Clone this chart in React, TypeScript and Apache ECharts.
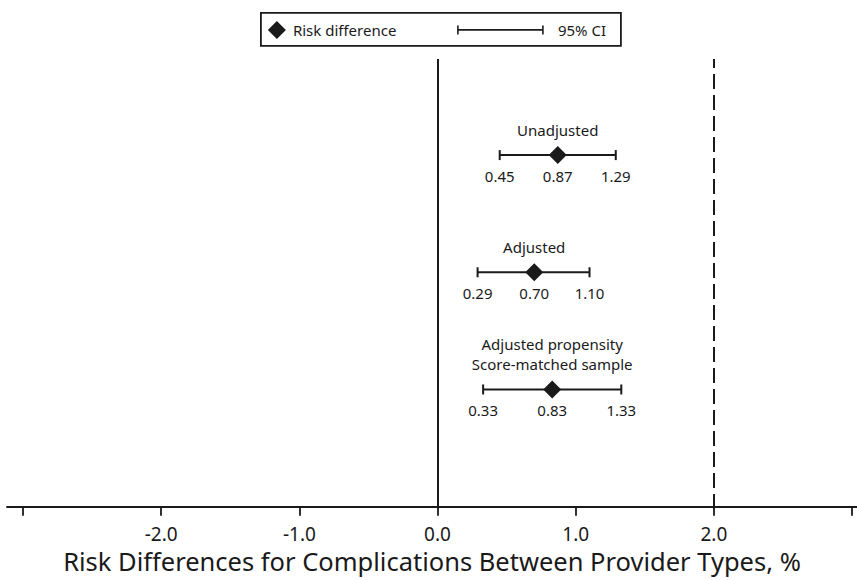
import React, { useEffect, useRef } from "react";
import * as echarts from "echarts";

const rowNames = ["Unadjusted", "Adjusted", "Adjusted propensity\nScore-matched sample"];
const rowPositions = [3, 2, 1];
const estimates = [0.87, 0.7, 0.83];
const lowerCI = [0.45, 0.29, 0.33];
const upperCI = [1.29, 1.1, 1.33];
const xTickValues = [-3, -2, -1, 0, 1, 2, 3];
const xLabelValues = [-2, -1, 0, 1, 2];
const solidRefLine = 0;
const dashedRefLine = 2;
const axisTitle = "Risk Differences for Complications Between Provider Types, %";
const legendPointLabel = "Risk difference";
const legendCILabel = "95% CI";

const FONT = "'Noto Sans', sans-serif";
const INK = "#1a1a1a";

export default function App() {
  const ref = useRef<HTMLDivElement>(null);
  useEffect(() => {
    if (!ref.current) return;
    const chart = echarts.init(ref.current, undefined, { renderer: "svg" });
    const ciData = rowNames.map((n, i) => [lowerCI[i], rowPositions[i], upperCI[i], estimates[i], n]);
    const ptData = estimates.map((e, i) => [e, rowPositions[i]]);
    chart.setOption({
      animation: false,
      backgroundColor: "#fff",
      textStyle: { fontFamily: FONT },
      grid: { left: 7, right: 0, top: 59, bottom: 71, outerBoundsMode: "none", containLabel: false },
      xAxis: {
        type: "value",
        min: -3.116,
        max: 3.036,
        splitLine: { show: false },
        axisLine: { show: true, lineStyle: { color: INK, width: 1.8 } },
        axisTick: { show: true, customValues: xTickValues, length: 9, lineStyle: { color: INK, width: 1.8 } },
        axisLabel: {
          customValues: xLabelValues,
          formatter: (v: number) => v.toFixed(1),
          fontSize: 19,
          color: INK,
          margin: 15,
          fontFamily: FONT,
        },
        name: axisTitle,
        nameLocation: "middle",
        nameGap: 39,
        nameTextStyle: { fontSize: 25.5, lineHeight: 26, color: INK, fontFamily: FONT },
      },
      yAxis: { type: "value", min: -0.02, max: 3.82, show: false },
      series: [
        {
          type: "custom",
          data: ciData,
          encode: { x: [0, 2, 3], y: 1 },
          renderItem: (params: any, api: any) => {
            const y = api.value(1);
            const lo = api.coord([api.value(0), y]);
            const hi = api.coord([api.value(2), y]);
            const pt = api.coord([api.value(3), y]);
            const name = ciData[params.dataIndex][4] as string;
            const st = { stroke: INK, lineWidth: 2 };
            const txt = (x: number, yy: number, s: string, va: string) => ({
              type: "text",
              style: { x, y: yy, text: s, fill: INK, fontSize: 15, fontFamily: FONT, align: "center", verticalAlign: va, lineHeight: 20 },
            });
            return {
              type: "group",
              children: [
                { type: "line", shape: { x1: lo[0], y1: lo[1], x2: hi[0], y2: hi[1] }, style: st },
                { type: "line", shape: { x1: lo[0], y1: lo[1] - 5, x2: lo[0], y2: lo[1] + 5 }, style: st },
                { type: "line", shape: { x1: hi[0], y1: hi[1] - 5, x2: hi[0], y2: hi[1] + 5 }, style: st },
                txt(pt[0], pt[1] - 15, name, "bottom"),
                txt(lo[0], lo[1] + 21, Number(api.value(0)).toFixed(2), "middle"),
                txt(pt[0], pt[1] + 21, Number(api.value(3)).toFixed(2), "middle"),
                txt(hi[0], hi[1] + 21, Number(api.value(2)).toFixed(2), "middle"),
              ],
            };
          },
          markLine: {
            silent: true,
            symbol: "none",
            label: { show: false },
            data: [
              { xAxis: solidRefLine, lineStyle: { color: INK, width: 2, type: "solid" } },
              { xAxis: dashedRefLine, lineStyle: { color: INK, width: 2, type: [15, 6] } },
            ],
          },
        },
        {
          type: "scatter",
          data: ptData,
          symbol: "diamond",
          symbolSize: [18, 18],
          itemStyle: { color: INK, opacity: 1 },
          z: 5,
        },
      ],
      graphic: [
        {
          type: "group",
          left: 260,
          top: 12,
          children: [
            { type: "rect", shape: { x: 0, y: 0, width: 360, height: 33 }, style: { fill: "#fff", stroke: INK, lineWidth: 1.8 } },
            { type: "polygon", shape: { points: [[16, 8], [25, 17], [16, 26], [7, 17]] }, style: { fill: INK } },
            { type: "text", style: { x: 32, y: 17, text: legendPointLabel, fontSize: 15, fill: INK, fontFamily: FONT, verticalAlign: "middle" } },
            { type: "line", shape: { x1: 197, y1: 17, x2: 282, y2: 17 }, style: { stroke: INK, lineWidth: 1.6 } },
            { type: "line", shape: { x1: 197, y1: 12.5, x2: 197, y2: 21.5 }, style: { stroke: INK, lineWidth: 1.6 } },
            { type: "line", shape: { x1: 282, y1: 12.5, x2: 282, y2: 21.5 }, style: { stroke: INK, lineWidth: 1.6 } },
            { type: "text", style: { x: 297, y: 17, text: legendCILabel, fontSize: 15, fill: INK, fontFamily: FONT, verticalAlign: "middle" } },
          ],
        },
      ],
    });
    return () => chart.dispose();
  }, []);
  return <div ref={ref} style={{ position: "fixed", left: 0, top: 0, width: 857, height: 580 }} />;
}
